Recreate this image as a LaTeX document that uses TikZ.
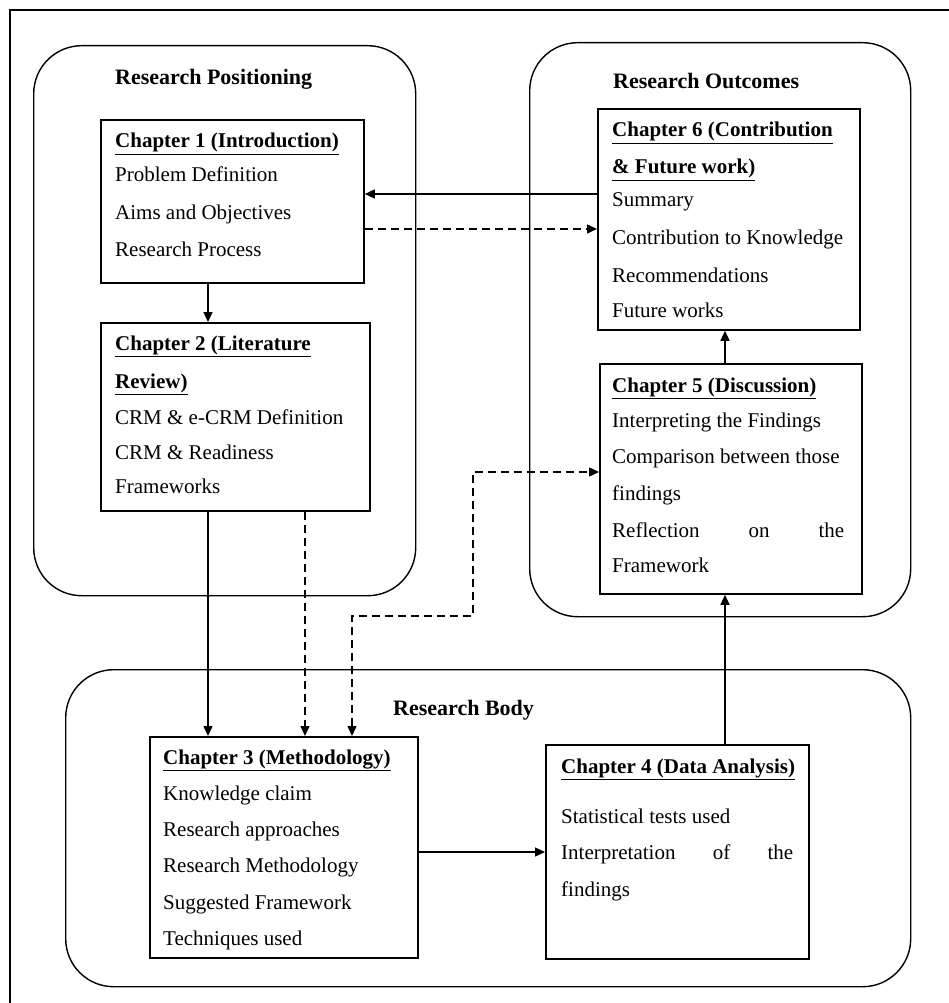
\documentclass[tikz,border=0pt]{standalone}
\usepackage{fontspec}
\setmainfont{Liberation Serif}
\usetikzlibrary{arrows.meta}

\begin{document}
\begin{tikzpicture}[x=1pt,y=-1pt,
  outerframe/.style={line width=1.3pt},
  panel/.style={draw, line width=1.4pt, rounded corners=48pt, rectangle, inner sep=0pt, anchor=north west},
  chapbox/.style={draw, line width=1.8pt, rectangle, inner sep=0pt, anchor=north west},
  paneltitle/.style={anchor=base west, inner sep=0pt, font=\fontsize{22pt}{26pt}\selectfont\bfseries},
  txt/.style={anchor=base west, inner sep=0pt, font=\fontsize{21pt}{25pt}\selectfont},
  head/.style={txt, font=\fontsize{21pt}{25pt}\selectfont\bfseries},
  tip/.style={Triangle[length=10pt,width=9pt]},
  arr/.style={line width=1.4pt, -{Triangle[length=10pt,width=9pt]}},
  darr/.style={arr, dash pattern=on 8pt off 5pt},
  ddarr/.style={line width=1.4pt, dash pattern=on 8pt off 5pt, {Triangle[length=10pt,width=9pt]}-{Triangle[length=10pt,width=9pt]}},
]
\useasboundingbox (0,0) rectangle (949,1003);
\clip (0,0) rectangle (949,1003);
\fill[white] (0,0) rectangle (949,1003);

% outer frame (right and bottom edges fall outside the page)
\draw[outerframe] (10,10) rectangle (962,1016);

% grouping panels
\node[panel, minimum width=382pt, minimum height=550pt] (positioning) at (33,45) {};
\node[panel, minimum width=381pt, minimum height=574pt] (outcomes) at (529,42) {};
\node[panel, minimum width=845pt, minimum height=317pt] (body) at (65,669) {};

\node[paneltitle] (positioningT) at (115,85) {Research Positioning};
\node[paneltitle] (outcomesT) at (613,89) {Research Outcomes};
\node[paneltitle] (bodyT) at (393,715) {Research Body};

% chapter boxes
\node[chapbox, minimum width=263pt, minimum height=163pt] (c1) at (100,119) {};
\node[chapbox, minimum width=269pt, minimum height=188pt] (c2) at (100,322) {};
\node[chapbox, minimum width=268pt, minimum height=221pt] (c3) at (149,736) {};
\node[chapbox, minimum width=263pt, minimum height=214pt] (c4) at (545,744) {};
\node[chapbox, minimum width=262pt, minimum height=230pt] (c5) at (599,363) {};
\node[chapbox, minimum width=262pt, minimum height=221pt] (c6) at (597,108) {};

% chapter 1
\node[head] (c1h) at (115,148) {\underline{Chapter 1 (Introduction)}};
\node[txt] (c1a) at (115,182) {Problem Definition};
\node[txt] (c1b) at (115,219) {Aims and Objectives};
\node[txt] (c1c) at (115,256) {Research Process};

% chapter 2
\node[head] (c2h) at (115,350) {\underline{Chapter 2 (Literature}};
\node[head] (c2i) at (115,388) {\underline{Review)}};
\node[txt] (c2a) at (115,424) {CRM \& e-CRM Definition};
\node[txt] (c2b) at (115,459) {CRM \& Readiness};
\node[txt] (c2c) at (115,493) {Frameworks};

% chapter 3
\node[head] (c3h) at (163,764) {\underline{Chapter 3 (Methodology)}};
\node[txt] (c3a) at (163,800) {Knowledge claim};
\node[txt] (c3b) at (163,836) {Research approaches};
\node[txt] (c3c) at (163,872) {Research Methodology};
\node[txt] (c3d) at (163,909) {Suggested Framework};
\node[txt] (c3e) at (163,945) {Techniques used};

% chapter 4
\node[head] (c4h) at (561,773) {\underline{Chapter 4 (Data Analysis)}};
\node[txt] (c4a) at (561,823) {Statistical tests used};
\node[txt] (c4b) at (561,859) {\makebox[232pt][s]{Interpretation of the}};
\node[txt] (c4c) at (561,896) {findings};

% chapter 5
\node[head] (c5h) at (612,392) {\underline{Chapter 5 (Discussion)}};
\node[txt] (c5a) at (612,427) {Interpreting the Findings};
\node[txt] (c5b) at (612,463) {Comparison between those};
\node[txt] (c5c) at (612,500) {findings};
\node[txt] (c5d) at (612,537) {\makebox[232pt][s]{Reflection on the}};
\node[txt] (c5e) at (612,572) {Framework};

% chapter 6
\node[head] (c6h) at (612,137) {\underline{Chapter 6 (Contribution}};
\node[head] (c6i) at (612,174) {\underline{\& Future work)}};
\node[txt] (c6a) at (612,207) {Summary};
\node[txt] (c6b) at (612,244) {Contribution to Knowledge};
\node[txt] (c6c) at (612,282) {Recommendations};
\node[txt] (c6d) at (612,317) {Future works};

% connector lanes
\coordinate (laneA) at (208,0);
\coordinate (laneB) at (305,0);
\coordinate (laneR) at (725,0);
\coordinate (laneTop) at (0,194);
\coordinate (laneTopD) at (0,229);
\coordinate (laneMid) at (0,852);
\coordinate (k1) at (352,616);
\coordinate (k2) at (473,616);
\coordinate (k3) at (473,472);

% connectors
\draw[arr] (c1.south -| laneA) -- (c2.north -| laneA);
\draw[arr] (c2.south -| laneA) -- (c3.north -| laneA);
\draw[darr] (c2.south -| laneB) -- (c3.north -| laneB);
\draw[ddarr] (c3.north -| k1) -- (k1) -- (k2) -- (k3) -- (c5.west |- k3);
\draw[arr] (c3.east |- laneMid) -- (c4.west |- laneMid);
\draw[arr] (c4.north -| laneR) -- (c5.south -| laneR);
\draw[arr] (c5.north -| laneR) -- (c6.south -| laneR);
\draw[arr] (c6.west |- laneTop) -- (c1.east |- laneTop);
\draw[darr] (c1.east |- laneTopD) -- (c6.west |- laneTopD);
\end{tikzpicture}
\end{document}
